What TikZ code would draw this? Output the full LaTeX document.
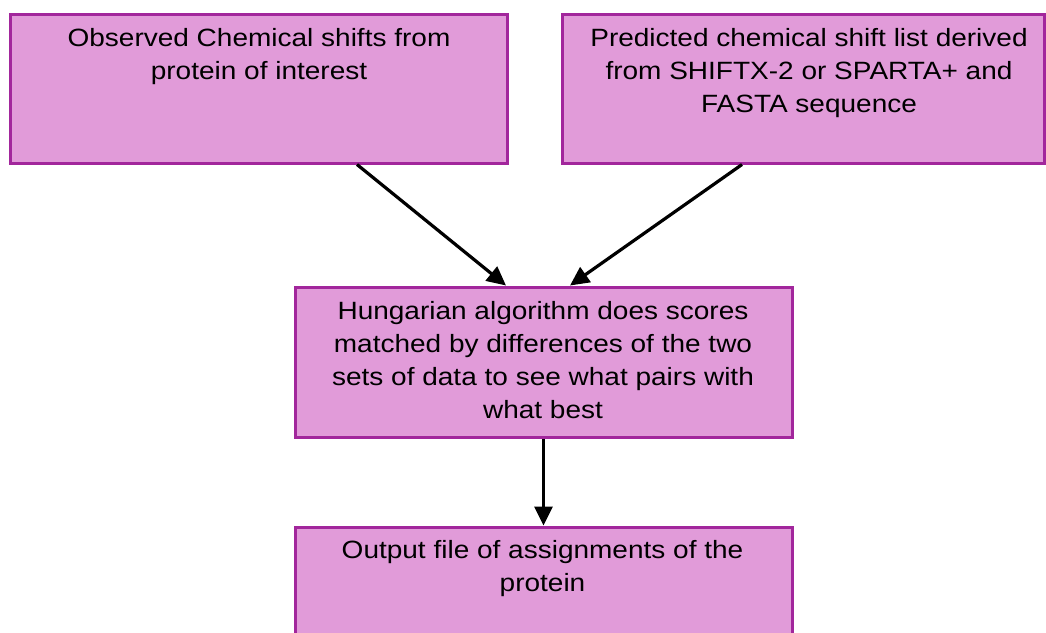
\documentclass[tikz,border=0pt]{standalone}
\usepackage{fontspec}
\setmainfont[FakeStretch=1.12]{Liberation Sans}
\usetikzlibrary{arrows.meta,calc}
\definecolor{boxfill}{RGB}{225,155,217}
\definecolor{boxline}{RGB}{162,38,156}
\tikzset{
  stagebox/.style 2 args={draw=boxline, fill=boxfill, line width=3pt,
    inner sep=0pt, minimum width=#1, minimum height=#2, rectangle},
  boxtext/.style={font=\fontsize{25}{33}\selectfont, align=center,
    inner sep=0pt, anchor=north, text=black},
  flow/.style={line width=3.2pt, draw=black,
    -{Triangle[length=19pt,width=18pt]}}
}
\begin{document}
\begin{tikzpicture}[x=1pt,y=-1pt]
  \useasboundingbox (0,0) rectangle (1046,632);
  \clip (0,0) rectangle (1046,632);

  % input boxes
  \node[stagebox={497pt}{149pt}] (obs)  at (258.5,88.5) {};
  \node[stagebox={482pt}{149pt}] (pred) at (803,88.5) {};
  % matching step
  \node[stagebox={497pt}{150pt}] (hung) at (543.5,362) {};
  % result (runs past the lower edge)
  \node[stagebox={497pt}{153pt}] (out)  at (543.5,603.5) {};

  \node[boxtext] (obstxt)  at (259,28.5)
    {Observed Chemical shifts from\\protein of interest};
  \node[boxtext] (predtxt) at (809,28.5)
    {Predicted chemical shift list derived\\from SHIFTX-2 or SPARTA+ and\\FASTA sequence};
  \node[boxtext] (hungtxt) at (543,301.5)
    {Hungarian algorithm does scores\\matched by differences of the two\\sets of data to see what pairs with\\what best};
  \node[boxtext] (outtxt)  at (542.5,540.5)
    {Output file of assignments of the\\protein};

  % connectors
  \draw[flow] ([xshift=98.5pt]obs.south) -- ([xshift=-37.5pt]hung.north);
  \draw[flow] ([xshift=-61pt]pred.south) -- ([xshift=26.5pt]hung.north);
  \draw[flow] (hung.south) -- (out.north);
\end{tikzpicture}
\end{document}
